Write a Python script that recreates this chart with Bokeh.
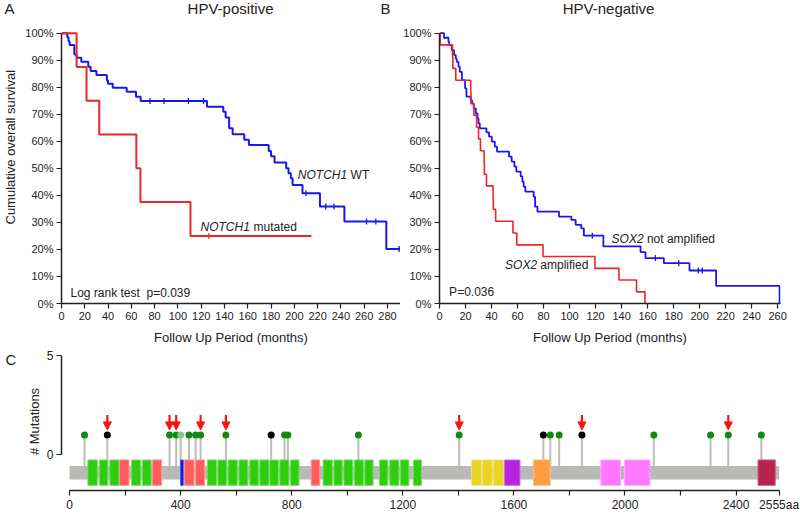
import numpy as np
from bokeh.plotting import figure
from bokeh.layouts import column, row
from bokeh.models import (Range1d, FixedTicker, Label, ColumnDataSource, Arrow,
                          NormalHead, PrintfTickFormatter)
from bokeh.embed import file_html
from bokeh.resources import INLINE

FONT = "Liberation Sans"
TXT = "#222222"
BLUE = "#1818ee"
RED = "#f02424"

# ---------------- Panel A: HPV-positive (months, % survival) ----------------
a_wt_times = [5, 6, 7, 11, 13, 17, 23, 25, 30, 39, 40, 44, 56, 64, 68, 125, 139, 141,
              144, 147, 157, 161, 178, 180, 183, 193, 195, 197, 198.5, 207, 222, 243, 279]
a_wt_surv = [98.5, 97.0, 95.6, 92.1, 90.9, 89.4, 87.6, 86.0, 84.5, 82.5, 81.3, 79.8, 78.3,
             76.5, 74.9, 72.8, 70.9, 68.8, 64.8, 62.6, 60.6, 58.6, 56.4, 54.5, 52.2, 50.0,
             48.2, 46.3, 43.8, 40.8, 35.9, 30.3, 20.2]
a_wt_end = 292
a_wt_censor = [76, 88, 109, 122, 210, 227, 234, 262, 270, 290]

a_mut_times = [13, 21.5, 32.4, 64.3, 67.8, 110.8]
a_mut_surv = [87.5, 75.0, 62.5, 50.0, 37.5, 25.0]
a_mut_end = 214.7
a_mut_censor = [126.6]

a_xticks = list(range(0, 281, 20))

# ---------------- Panel B: HPV-negative ----------------
b_not_times = [3.5, 6.9, 7.5, 9.4, 11.2, 12.5, 13.2, 14.6, 15.6, 17.2, 19.7, 20.7, 24, 25,
               26.3, 27.9, 29.2, 30, 31, 36.1, 38.1, 40.2, 42.5, 44.2, 53.5, 55.5, 57.6,
               59.1, 62.4, 63.7, 64.7, 66, 72.4, 73.5, 75.3, 91.9, 101.4, 104.7, 109, 111,
               126, 154.6, 158.4, 172.5, 192.2, 212.7, 261.5]
b_not_surv = [98.3, 96.8, 95.6, 93.7, 91.9, 90.6, 89.4, 87.6, 85.7, 82.6, 79.6, 76.5, 75.2,
              74.0, 72.2, 70.3, 68.5, 66.6, 64.8, 63.3, 61.7, 59.9, 58.0, 56.2, 54.3, 52.5,
              50.6, 48.8, 47.0, 45.1, 43.2, 41.4, 39.5, 35.8, 34.0, 32.1, 30.9, 29.1, 27.8,
              25.1, 21.1, 19.0, 16.8, 14.9, 12.2, 6.5, 0.0]
b_not_end = 261.5
b_not_censor = [117.5, 166, 184, 199, 202]

b_amp_times = [0.5, 10, 10.3, 12.5, 24, 24.2, 26.5, 28.5, 30, 31.5, 34.3, 34.5, 36.1, 41.2,
               41.4, 43.2, 56.5, 59.4, 79.6, 119.5, 138, 151.5, 158]
b_amp_surv = [95.65, 91.3, 86.96, 82.6, 78.3, 73.9, 69.6, 65.2, 60.9, 56.5, 52.2, 47.8,
              43.5, 39.1, 34.8, 30.4, 26.1, 21.7, 17.4, 13.0, 8.7, 4.3, 0.0]
b_amp_end = 158
b_amp_censor = []

b_xticks = list(range(0, 261, 20))
pct_ticks = list(range(0, 101, 10))

# ---------------- Panel C: NOTCH1 protein ----------------
protein_length = 2555
c_xticks = list(range(0, 2401, 200)) + [2555]
c_xlabels = {t: (str(t) if t % 400 == 0 else "") for t in range(0, 2401, 200)}
c_xlabels[2555] = "2555aa"
c_yticks = [0, 5]

mut_pos = [54, 136, 360, 384, 400, 430, 454, 472, 563, 726, 774, 786, 1040, 1403,
           1706, 1731, 1763, 1845, 2104, 2308, 2372, 2491]
mut_count = [1, 1, 1, 1, 1, 1, 1, 1, 1, 1, 1, 1, 1, 1, 1, 1, 1, 1, 1, 1, 1, 1]
mut_class = ["missense", "truncating", "missense", "missense", "other", "missense",
             "missense", "missense", "missense", "truncating", "missense", "missense",
             "missense", "missense", "truncating", "missense", "missense", "truncating",
             "missense", "missense", "missense", "missense"]
flag_pos = [136, 360, 384, 472, 563, 1403, 1845, 2372]

dom_start = [66, 108, 145, 180, 223, 262, 298, 400, 413, 454, 496, 534, 571, 610, 649,
             685, 721, 757, 796, 870, 913, 952, 988, 1026, 1063, 1116, 1153, 1192, 1238,
             1448, 1487, 1527, 1566, 1671, 1913, 1999, 2479]
dom_end = [100, 138, 178, 214, 256, 294, 331, 410, 448, 486, 529, 566, 604, 642, 680,
           718, 752, 790, 826, 901, 946, 982, 1020, 1058, 1093, 1146, 1186, 1222, 1267,
           1483, 1522, 1562, 1622, 1731, 1984, 2090, 2541]
dom_type = ["EGF", "EGF", "EGF", "cbEGF", "EGF", "EGF", "cbEGF", "site", "cbEGF", "cbEGF",
            "EGF", "EGF", "EGF", "EGF", "EGF", "EGF", "EGF", "EGF", "EGF", "cbEGF",
            "EGF", "EGF", "EGF", "EGF", "EGF", "EGF", "EGF", "EGF", "EGF",
            "LNR", "LNR", "LNR", "HD", "TM", "ANK", "ANK", "PEST"]

DOM_FILL = {"EGF": "#30cc10", "cbEGF": "#ff5c5c", "site": "#0a12e6", "LNR": "#e8d422",
            "HD": "#b824de", "TM": "#ff9c42", "ANK": "#ff78ff", "PEST": "#b8244e"}
DOM_LINE = {"EGF": "#74e064", "cbEGF": "#ff9494", "site": "#5058ff", "LNR": "#f2e27a",
            "HD": "#d070ee", "TM": "#ffbe86", "ANK": "#ffaaff", "PEST": "#d05c80"}
MUT_COLOR = {"missense": "#108a10", "truncating": "#000000", "other": "#86c686"}

TOP_H = 347      # height of the survival row
GUTTER = 18      # narrow strip on the left holding panel letters / y label


def km_path(times, surv, end):
    x = np.concatenate([[0.0], np.asarray(times, float), [end]])
    y = np.concatenate([[100.0], np.asarray(surv, float), [surv[-1]]])
    return x, y


def km_value(times, surv, at):
    t = np.asarray(times, float)
    s = np.asarray(surv, float)
    i = np.searchsorted(t, np.asarray(at, float), side="right") - 1
    return np.where(i < 0, 100.0, s[np.maximum(i, 0)])


def style_axes(p, tick_size="11px"):
    p.grid.visible = False
    p.outline_line_color = None
    for ax in p.axis:
        ax.axis_line_width = 1.5
        ax.axis_line_color = "#222222"
        ax.major_tick_line_width = 1.2
        ax.major_tick_line_color = "#222222"
        ax.major_tick_out = 5
        ax.major_tick_in = 0
        ax.minor_tick_line_color = None
        ax.major_label_text_font = FONT
        ax.major_label_text_font_size = tick_size
        ax.major_label_text_color = TXT
        ax.major_label_standoff = 3
        ax.axis_label_text_font = FONT
        ax.axis_label_text_font_size = "13px"
        ax.axis_label_text_font_style = "normal"
        ax.axis_label_text_color = TXT
        ax.axis_label_standoff = 3


def km_fig(width, mb_left, mb_right, x_end, xticks):
    # frame reaches the top of the canvas so the panel headings sit inside it
    p = figure(width=width, height=TOP_H, x_range=Range1d(0, x_end),
               y_range=Range1d(0, 112.08),
               output_backend="svg", toolbar_location=None,
               min_border_left=mb_left, min_border_right=mb_right,
               min_border_top=0, min_border_bottom=44)
    p.xaxis.ticker = FixedTicker(ticks=xticks)
    p.yaxis.ticker = FixedTicker(ticks=pct_ticks)
    p.yaxis.formatter = PrintfTickFormatter(format="%d%%")
    p.yaxis.bounds = (0, 100)
    p.xaxis.axis_label = "Follow Up Period (months)"
    style_axes(p)
    p.xaxis.axis_label_standoff = 7
    return p


def add_curve(p, times, surv, end, censor, color, width):
    x, y = km_path(times, surv, end)
    p.step(x, y, mode="after", line_color=color, line_width=width)
    if len(censor):
        p.scatter(censor, km_value(times, surv, censor), marker="dash", angle=np.pi / 2,
                  size=6, line_color=color, line_width=1.3)


def txt(p, x, y, text, size="12px", style="normal", align="left", color=TXT, angle=0.0):
    p.add_layout(Label(x=x, y=y, text=text, text_font=FONT, text_font_size=size,
                       text_font_style=style, text_align=align, text_baseline="middle",
                       text_color=color, angle=angle))


def gutter(height):
    g = figure(width=GUTTER, height=height, x_range=Range1d(0, GUTTER),
               y_range=Range1d(0, height), output_backend="svg", toolbar_location=None,
               x_axis_location=None, y_axis_location=None,
               min_border_left=0, min_border_right=0, min_border_top=0, min_border_bottom=0)
    g.grid.visible = False
    g.outline_line_color = None
    return g


# ---- left strip for panels A/B ----
gA = gutter(TOP_H)
txt(gA, 4, TOP_H - 9, "A", size="15px")
txt(gA, 10, TOP_H - 168, "Cumulative overall survival", size="13px", align="center",
    angle=np.pi / 2)

# ---- Panel A ----
pA = km_fig(400 - GUTTER, 61 - GUTTER, 0, 291.2, a_xticks)
add_curve(pA, a_wt_times, a_wt_surv, a_wt_end, a_wt_censor, BLUE, 2)
add_curve(pA, a_mut_times, a_mut_surv, a_mut_end, a_mut_censor, RED, 2)
txt(pA, 145.2, 109.2, "HPV-positive", size="15px", align="center")
txt(pA, 274, 109.2, "B", size="15px")
txt(pA, 203, 47.6, "NOTCH1", style="italic")
txt(pA, 248.3, 47.6, "WT")
txt(pA, 119.4, 28.4, "NOTCH1", style="italic")
txt(pA, 165.0, 28.4, "mutated")
txt(pA, 7.7, 4.0, "Log rank test\u00a0 p=0.039")

# ---- Panel B ----
pB = km_fig(400, 39, 20, 262.2, b_xticks)
add_curve(pB, b_not_times, b_not_surv, b_not_end, b_not_censor, BLUE, 1.8)
add_curve(pB, b_amp_times, b_amp_surv, b_amp_end, b_amp_censor, RED, 1.6)
txt(pB, 130.0, 109.2, "HPV-negative", size="15px", align="center")
txt(pB, 132.3, 24.0, "SOX2", style="italic")
txt(pB, 159.5, 24.0, "not amplified")
txt(pB, 50.4, 14.3, "SOX2", style="italic")
txt(pB, 77.5, 14.3, "amplified")
txt(pB, 7.4, 4.2, "P=0.036")

# ---- Panel C ----
C_H = 514 - TOP_H
gC = gutter(C_H)
txt(gC, 5, C_H - 8, "C", size="15px")

pC = figure(width=800 - GUTTER, height=C_H, x_range=Range1d(-29, 2632),
            y_range=Range1d(-1.798, 5.148),
            output_backend="svg", toolbar_location=None,
            min_border_left=61 - GUTTER, min_border_right=0, min_border_top=5,
            min_border_bottom=21)
pC.xaxis.ticker = FixedTicker(ticks=c_xticks)
pC.xaxis.major_label_overrides = c_xlabels
pC.xaxis.bounds = (0, protein_length)
pC.yaxis.ticker = FixedTicker(ticks=c_yticks)
pC.yaxis.bounds = (0, 5)
pC.yaxis.axis_label = "# Mutations"
style_axes(pC, tick_size="12px")
pC.xaxis.major_label_standoff = 2
pC.yaxis.axis_label_standoff = 2

band_top, band_bottom = -0.56, -1.25
box_top, box_bottom = -0.26, -1.54

mut_src = ColumnDataSource(dict(
    x=mut_pos, y=mut_count, base=[band_top] * len(mut_pos),
    color=[MUT_COLOR[c] for c in mut_class]))
pC.segment(x0="x", y0="base", x1="x", y1="y", source=mut_src, line_color="#bdbdb8",
           line_width=2)
pC.quad(left=[0], right=[protein_length], top=[band_top], bottom=[band_bottom],
        fill_color="#b9bab5", line_color=None)
dom_src = ColumnDataSource(dict(
    left=dom_start, right=dom_end, top=[box_top] * len(dom_start),
    bottom=[box_bottom] * len(dom_start),
    fill=[DOM_FILL[t] for t in dom_type], line=[DOM_LINE[t] for t in dom_type]))
pC.quad(left="left", right="right", top="top", bottom="bottom", source=dom_src,
        fill_color="fill", line_color="line", line_width=1)
pC.scatter(x="x", y="y", source=mut_src, size=7, fill_color="color", line_color=None)

flag_counts = [mut_count[mut_pos.index(f)] for f in flag_pos]
arr_src = ColumnDataSource(dict(x=flag_pos, y0=[c + 1.0 for c in flag_counts],
                                y1=[c + 0.25 for c in flag_counts]))
pC.add_layout(Arrow(end=NormalHead(size=8, fill_color="#ff1010", line_color="#ff1010"),
                    x_start="x", y_start="y0", x_end="x", y_end="y1", source=arr_src,
                    line_color="#ff1010", line_width=2.2))

layout = column(row(gA, pA, pB, spacing=0), row(gC, pC, spacing=0), spacing=0)
open("out.html", "w").write(file_html(layout, INLINE))
